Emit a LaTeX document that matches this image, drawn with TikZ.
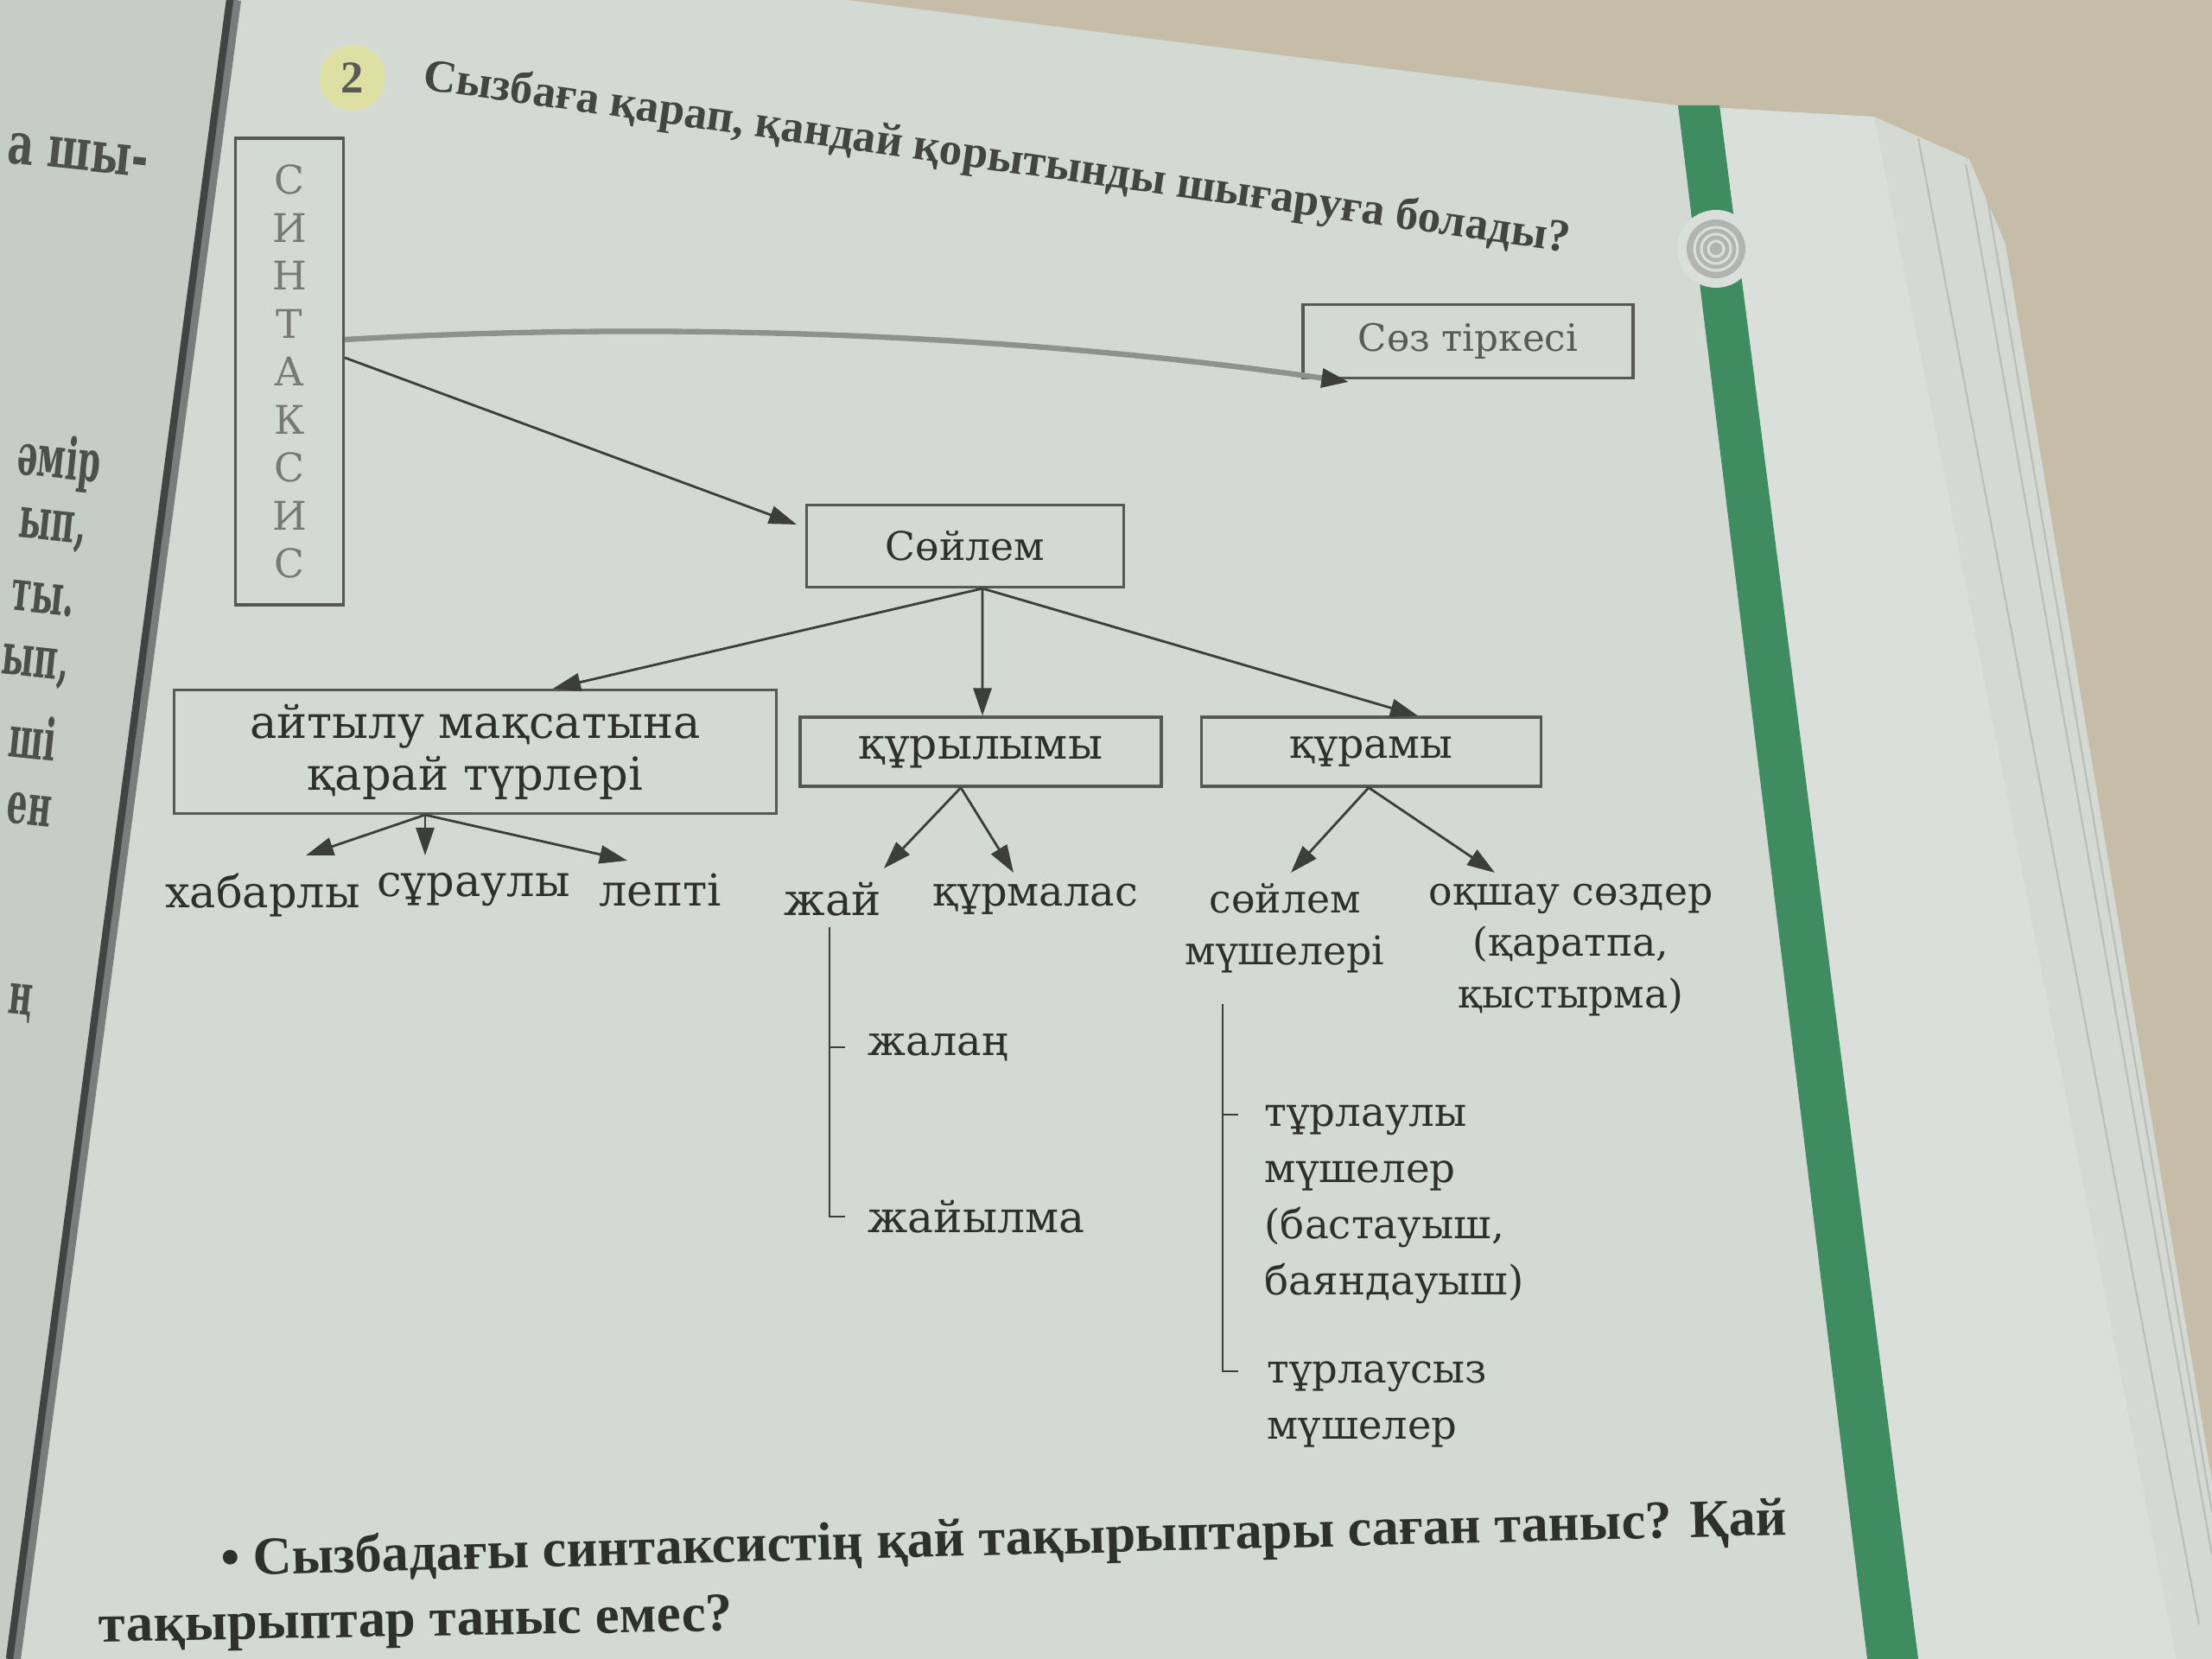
\documentclass[tikz,border=0pt]{standalone}
\usepackage{fontspec}
\setmainfont{DejaVu Serif}
\newfontfamily\headfont{Liberation Serif}
\usetikzlibrary{arrows.meta,calc}
\definecolor{paper}{HTML}{D3DAD4}
\definecolor{pagelight}{HTML}{DADFDB}
\definecolor{leftpage}{HTML}{C6CDC7}
\definecolor{desk}{HTML}{C6BDA8}
\definecolor{stack}{HTML}{D4D9D4}
\definecolor{stripe}{HTML}{3E8C60}
\definecolor{gutter}{HTML}{3F4542}
\definecolor{boxc}{HTML}{555855}
\definecolor{linec}{HTML}{3C3E3C}
\definecolor{txt}{HTML}{2E302E}
\definecolor{curvec}{HTML}{8E928F}
\definecolor{badge}{HTML}{DEDFA3}
\newcommand{\sq}[1]{\scalebox{0.56}[1]{#1}}
\begin{document}
\begin{tikzpicture}[x=1cm,y=1cm,
  box/.style={draw=boxc, line width=0.9pt, inner sep=0pt, text=txt, font=\fontsize{13}{16.5}\selectfont},
  lbl/.style={inner sep=0pt, text=txt, font=\fontsize{13}{17}\selectfont},
  arr/.style={draw=linec, line width=0.8pt, -{Triangle[length=3.2mm,width=2.1mm]}},
  ln/.style={draw=linec, line width=0.8pt},
  frag/.style={inner sep=0pt, text=txt!85, font=\fontsize{19}{19}\selectfont\bfseries, rotate=-6, anchor=east},
]
\useasboundingbox (0,0) rectangle (25.6,19.2);
\clip (0,0) rectangle (25.6,19.2);
% ---------- page background ----------
\fill[paper] (0,0) rectangle (25.6,19.2);
\fill[leftpage] (0,19.2) -- (2.66,19.2) -- (0.11,0) -- (0,0) -- cycle;
\draw[gutter!70, line width=4pt] (2.72,19.2) -- (0.17,0);
\draw[gutter, line width=2.4pt] (2.66,19.2) -- (0.11,0);
\fill[pagelight] (19.9,17.98) -- (21.69,17.85) -- (25.19,0) -- (22.2,0) -- cycle;
\fill[stack] (21.69,17.85) -- (22.79,17.36) -- (23.21,16.38) -- (25.6,2.06) -- (25.6,0) -- (25.19,0) -- cycle;
\draw[boxc!40, line width=0.6pt] (22.2,17.6) -- (25.45,0.4);
\draw[boxc!40, line width=0.6pt] (22.75,17.3) -- (25.6,1.2);
\draw[boxc!40, line width=0.6pt] (23.0,16.9) -- (25.6,1.7);
\fill[desk] (9.8,19.2) -- (19.42,17.98) -- (21.69,17.85) -- (22.79,17.36) -- (23.21,16.38) -- (25.6,2.06) -- (25.6,19.2) -- cycle;
\fill[stripe] (19.42,17.98) -- (19.90,17.98) -- (22.20,0) -- (21.61,0) -- cycle;
\fill[pagelight] (19.86,16.32) circle (0.45);
\fill[boxc!45] (19.86,16.32) circle (0.34);
\foreach \r in {0.09,0.17,0.25} \draw[pagelight, line width=0.9pt] (19.86,16.32) circle (\r);
% ---------- left page fragments ----------
\node[frag] (f1) at (1.72,17.32) {\scalebox{0.7}[1]{а шы-}};
\node[frag] (f2) at (1.17,13.80) {\sq{әмір}};
\node[frag] (f3) at (1.00,13.02) {\sq{ып,}};
\node[frag] (f4) at (0.87,12.23) {\sq{ты.}};
\node[frag] (f5) at (0.80,11.44) {\sq{ып,}};
\node[frag] (f6) at (0.66,10.64) {\sq{ші}};
\node[frag] (f7) at (0.60,9.80) {\sq{ен}};
\node[frag] (f8) at (0.38,7.57) {\sq{ң}};
% ---------- heading ----------
\node[circle, fill=badge, minimum size=0.76cm, inner sep=0pt, text=txt!80, font=\headfont\bfseries\fontsize{15}{15}\selectfont] (num) at (4.08,18.3) {2};
\node[anchor=west, rotate=-8.1, inner sep=0pt, text=txt!90, font=\headfont\bfseries\fontsize{15.1}{15.1}\selectfont] (head) at (4.9,18.3) {Сызбаға қарап, қандай қорытынды шығаруға болады?};
% ---------- boxes ----------
\node[box, minimum width=1.25cm, minimum height=5.4cm, align=center, text=txt!65, font=\fontsize{13}{15.8}\selectfont] (synt) at (3.35,14.9) {С\\И\\Н\\Т\\А\\К\\С\\И\\С};
\node[box, minimum width=3.82cm, minimum height=0.85cm, text=txt!80, font=\fontsize{12.4}{14}\selectfont] (soz) at (16.99,15.25) {Сөз тіркесі};
\node[box, minimum width=3.67cm, minimum height=0.95cm] (sent) at (11.17,12.88) {Сөйлем};
\node[box, minimum width=6.97cm, minimum height=1.43cm, align=center, font=\fontsize{15}{17}\selectfont] (ait) at (5.5,10.5) {айтылу мақсатына\\қарай түрлері};
\node[box, minimum width=4.18cm, minimum height=0.8cm, font=\fontsize{14.3}{16}\selectfont] (kur) at (11.35,10.5) {құрылымы};
\node[box, minimum width=3.93cm, minimum height=0.8cm, font=\fontsize{13.5}{16}\selectfont] (kurm) at (15.87,10.5) {құрамы};
% ---------- labels ----------
\node[lbl, anchor=north, font=\fontsize{14.5}{17}\selectfont] (hab) at (3.04,9.1) {хабарлы};
\node[lbl, anchor=north, font=\fontsize{14.5}{17}\selectfont] (sur) at (5.48,9.1) {сұраулы};
\node[lbl, anchor=north, font=\fontsize{14.5}{17}\selectfont] (lep) at (7.64,9.1) {лепті};
\node[lbl, anchor=north, font=\fontsize{14.7}{17}\selectfont] (zhai) at (9.64,9.0) {жай};
\node[lbl, anchor=north, font=\fontsize{13.6}{17}\selectfont] (kurmal) at (11.98,8.98) {құрмалас};
\node[lbl, anchor=north, align=center] (soil) at (14.87,8.98) {сөйлем\\мүшелері};
\node[lbl, anchor=north, align=center] (oksh) at (18.18,8.98) {оқшау сөздер\\(қаратпа,\\қыстырма)};
\node[lbl, anchor=west, font=\fontsize{13.6}{17}\selectfont] (zhalan) at (10.04,7.08) {жалаң};
\node[lbl, anchor=west, font=\fontsize{14.3}{17}\selectfont] (zhaiylma) at (10.04,5.12) {жайылма};
\node[lbl, anchor=north west, align=left, font=\fontsize{13.3}{18.5}\selectfont] (turl) at (14.63,6.42) {тұрлаулы\\мүшелер\\(бастауыш,\\баяндауыш)};
\node[lbl, anchor=north west, align=left, font=\fontsize{13.2}{18.5}\selectfont] (turs) at (14.66,3.45) {тұрлаусыз\\мүшелер};
% ---------- arrow targets ----------
\coordinate (thab) at (3.54,9.3);
\coordinate (tsur) at (4.92,9.3);
\coordinate (tlep) at (7.26,9.24);
\coordinate (tzhai) at (10.23,9.15);
\coordinate (tkurmal) at (11.73,9.1);
\coordinate (tsoil) at (14.94,9.1);
\coordinate (toksh) at (17.30,9.1);
% ---------- connectors ----------
\draw[draw=curvec, line width=1.8pt, -{Triangle[length=3.2mm,width=2.1mm,color=linec]}]
  ($(synt.east)+(0,0.37)$) .. controls (8,15.5) and (12,15.3) .. ($(soz.south west)+(0.55,-0.03)$);
\draw[arr] ($(synt.east)+(0,0.16)$) -- ($(sent.west)+(-0.1,0.25)$);
\draw[arr] ($(sent.south)+(0.2,0)$) -- ($(ait.north)+(0.9,0)$);
\draw[arr] ($(sent.south)+(0.2,0)$) -- ($(kur.north)+(0.02,0)$);
\draw[arr] ($(sent.south)+(0.2,0)$) -- ($(kurm.north)+(0.54,0)$);
\draw[arr] ($(ait.south)+(-0.58,0)$) -- (thab);
\draw[arr] ($(ait.south)+(-0.58,0)$) -- (tsur);
\draw[arr] ($(ait.south)+(-0.58,0)$) -- (tlep);
\draw[arr] ($(kur.south)+(-0.23,0)$) -- (tzhai);
\draw[arr] ($(kur.south)+(-0.23,0)$) -- (tkurmal);
\draw[arr] ($(kurm.south)+(-0.03,0)$) -- (tsoil);
\draw[arr] ($(kurm.south)+(-0.03,0)$) -- (toksh);
% brackets
\draw[ln] ($(zhai.south)+(-0.04,-0.12)$) |- ($(zhaiylma.west)+(-0.26,0)$);
\draw[ln] ($(zhalan.west)+(-0.44,0)$) -- ($(zhalan.west)+(-0.26,0)$);
\draw[ln] ($(soil.south)+(-0.72,-0.35)$) |- ($(turs.north west)+(-0.33,-0.12)$);
\draw[ln] ($(turl.north west)+(-0.48,-0.12)$) -- ($(turl.north west)+(-0.3,-0.12)$);
% ---------- bottom question ----------
\node[anchor=west, rotate=1.5, inner sep=0pt, text=txt, font=\headfont\bfseries\fontsize{17.7}{17.7}\selectfont] (q1) at (2.55,1.12) {• Сызбадағы синтаксистің қай тақырыптары саған таныс? Қай};
\node[anchor=west, rotate=1, inner sep=0pt, text=txt, font=\headfont\bfseries\fontsize{17.9}{17.9}\selectfont] (q2) at (1.14,0.34) {тақырыптар таныс емес?};
\end{tikzpicture}
\end{document}
